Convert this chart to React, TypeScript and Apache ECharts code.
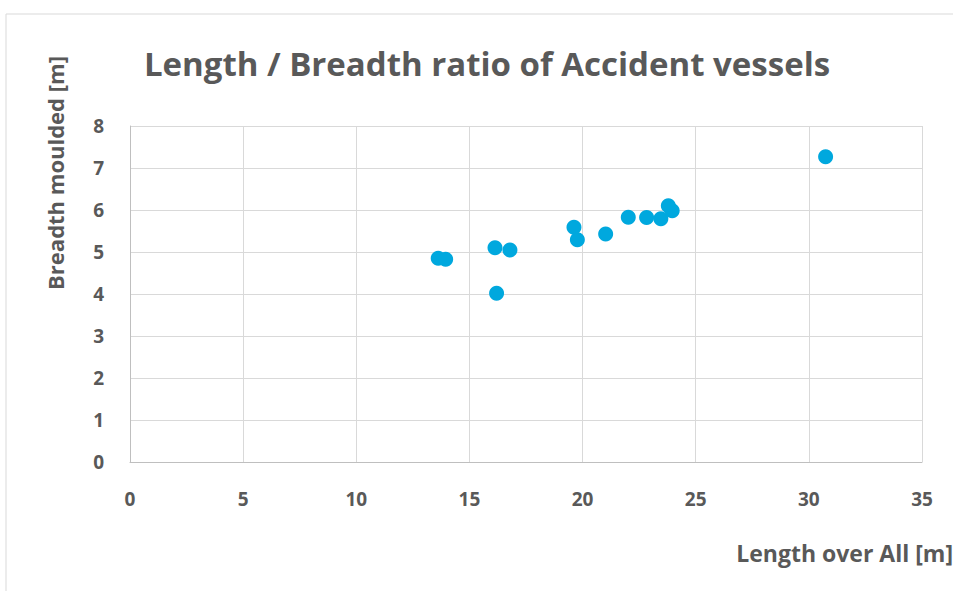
import React, { useEffect, useRef } from "react";
import * as echarts from "echarts";

const lengthOverAll = [13.62, 13.95, 16.13, 16.79, 16.2, 19.62, 19.77, 21.02, 22.02, 22.83, 23.46, 23.79, 23.96, 30.74];
const breadthMoulded = [4.85, 4.83, 5.1, 5.05, 4.02, 5.59, 5.29, 5.43, 5.83, 5.82, 5.79, 6.1, 5.98, 7.27];

const titleText = "Length / Breadth ratio of Accident vessels";
const xTitle = "Length over All [m]";
const yTitle = "Breadth moulded [m]";

const FONT = "'Open Sans', 'Noto Sans', sans-serif";
const TEXT = "#595959";

export default function App() {
  const ref = useRef<HTMLDivElement>(null);
  useEffect(() => {
    if (!ref.current) return;
    const chart = echarts.init(ref.current, undefined, { renderer: "svg" });
    const data = lengthOverAll.map((x, i) => [x, breadthMoulded[i]]);
    chart.setOption({
      animation: false,
      backgroundColor: "#ffffff",
      title: {
        text: titleText,
        left: 482,
        top: 42,
        textAlign: "center",
        textStyle: { fontFamily: FONT, fontWeight: "bold", fontSize: 33, color: TEXT },
      },
      grid: { left: 130, right: 31, top: 126, bottom: 129 },
      xAxis: {
        type: "value",
        min: 0,
        max: 35,
        interval: 5,
        axisLine: { show: true, lineStyle: { color: "#bfbfbf", width: 1 } },
        axisTick: { show: false },
        splitLine: { show: true, lineStyle: { color: "#d9d9d9", width: 1 } },
        axisLabel: { fontFamily: FONT, fontWeight: "bold", fontSize: 19, color: TEXT, margin: 27 },
      },
      yAxis: {
        type: "value",
        min: 0,
        max: 8,
        interval: 1,
        axisLine: { show: true, lineStyle: { color: "#bfbfbf", width: 1 } },
        axisTick: { show: false },
        splitLine: { show: true, lineStyle: { color: "#d9d9d9", width: 1 } },
        axisLabel: { fontFamily: FONT, fontWeight: "bold", fontSize: 19, color: TEXT, margin: 26 },
      },
      graphic: [
        {
          type: "rect",
          shape: { x: 6, y: 14, width: 1000, height: 1000 },
          style: { fill: "none", stroke: "#d9d9d9", lineWidth: 1 },
          silent: true,
        },
        {
          type: "text",
          x: 953,
          y: 553,
          style: {
            text: xTitle,
            align: "right",
            verticalAlign: "middle",
            fontFamily: FONT,
            fontWeight: "bold",
            fontSize: 23,
            fill: TEXT,
          },
        },
        {
          type: "text",
          x: 55,
          y: 173,
          rotation: Math.PI / 2,
          style: {
            text: yTitle,
            align: "center",
            verticalAlign: "middle",
            fontFamily: FONT,
            fontWeight: "bold",
            fontSize: 22,
            fill: TEXT,
          },
        },
      ],
      series: [
        {
          type: "scatter",
          data,
          symbol: "circle",
          symbolSize: 15,
          itemStyle: { color: "#00a8de", opacity: 1 },
        },
      ],
    });
    return () => chart.dispose();
  }, []);
  return (
    <div
      ref={ref}
      style={{ position: "fixed", left: 0, top: 0, width: 953, height: 591 }}
    />
  );
}
